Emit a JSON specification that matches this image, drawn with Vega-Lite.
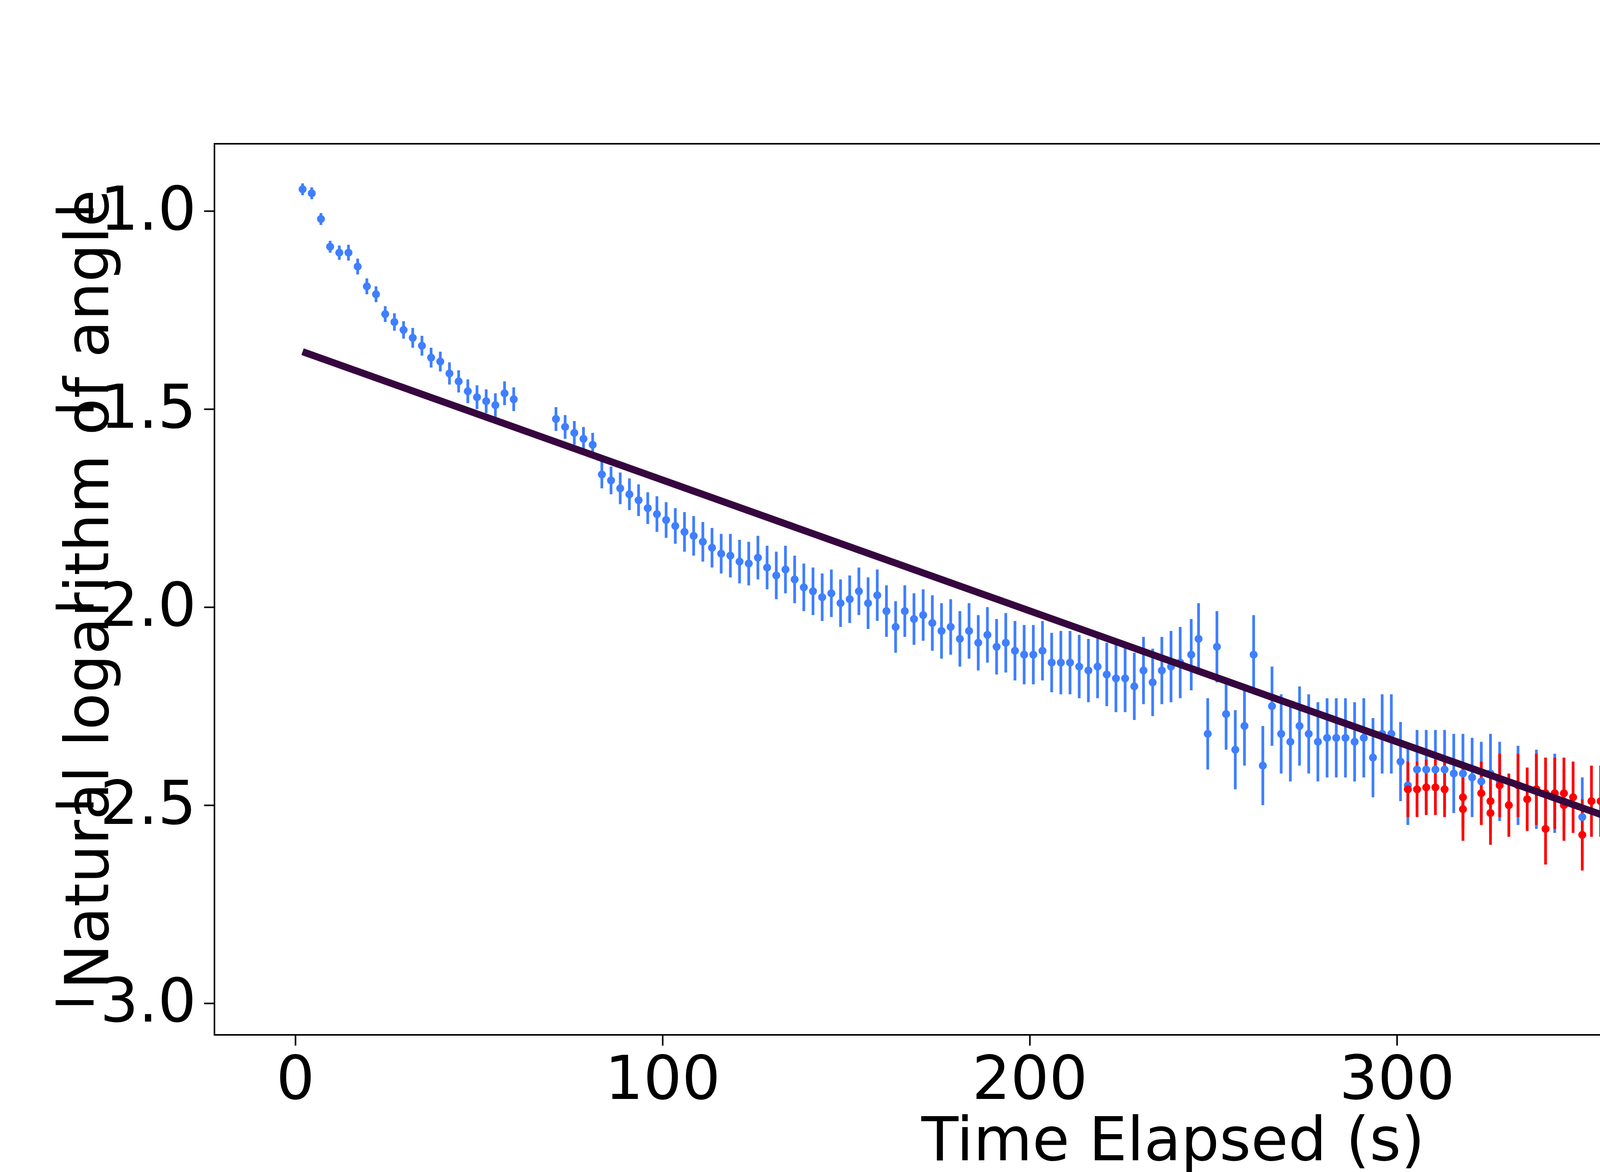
{
  "$schema": "https://vega.github.io/schema/vega-lite/v6.json",
  "width": 6000,
  "height": 3000,
  "autosize": {"type": "fit", "contains": "padding"},
  "padding": {"left": 125, "top": 368, "right": 542, "bottom": 0},
  "background": "white",
  "config": {
    "font": "DejaVu Sans",
    "view": {"stroke": "black", "strokeWidth": 4},
    "axis": {
      "labelFont": "DejaVu Sans", "titleFont": "DejaVu Sans",
      "labelFontSize": 155, "titleFontSize": 155, "titleFontWeight": "normal",
      "labelColor": "black", "titleColor": "black", "labelLimit": 0, "titleLimit": 0,
      "grid": false, "domain": false, "tickSize": 27, "tickWidth": 4, "tickColor": "black",
      "labelPadding": 14
    },
    "legend": {"labelFont": "DejaVu Sans", "labelFontSize": 155, "labelColor": "black", "labelLimit": 0}
  },
  "datasets": {
    "fit": [
      {"t": 2, "v": -1.355, "s": "Linear Fit"},
      {"t": 477, "v": -2.925, "s": "Linear Fit"}
    ],
    "pts": [
      {"t": 2, "v": -0.945, "e": 0.015, "s": "Amplitudes"},
      {"t": 4.5, "v": -0.955, "e": 0.015, "s": "Amplitudes"},
      {"t": 7, "v": -1.02, "e": 0.015, "s": "Amplitudes"},
      {"t": 9.5, "v": -1.09, "e": 0.015, "s": "Amplitudes"},
      {"t": 12, "v": -1.105, "e": 0.018, "s": "Amplitudes"},
      {"t": 14.5, "v": -1.105, "e": 0.02, "s": "Amplitudes"},
      {"t": 17, "v": -1.14, "e": 0.02, "s": "Amplitudes"},
      {"t": 19.5, "v": -1.19, "e": 0.02, "s": "Amplitudes"},
      {"t": 22, "v": -1.21, "e": 0.02, "s": "Amplitudes"},
      {"t": 24.5, "v": -1.26, "e": 0.02, "s": "Amplitudes"},
      {"t": 27, "v": -1.28, "e": 0.022, "s": "Amplitudes"},
      {"t": 29.5, "v": -1.30, "e": 0.022, "s": "Amplitudes"},
      {"t": 32, "v": -1.32, "e": 0.025, "s": "Amplitudes"},
      {"t": 34.5, "v": -1.34, "e": 0.025, "s": "Amplitudes"},
      {"t": 37, "v": -1.37, "e": 0.025, "s": "Amplitudes"},
      {"t": 39.5, "v": -1.38, "e": 0.025, "s": "Amplitudes"},
      {"t": 42, "v": -1.41, "e": 0.028, "s": "Amplitudes"},
      {"t": 44.5, "v": -1.43, "e": 0.028, "s": "Amplitudes"},
      {"t": 47, "v": -1.455, "e": 0.03, "s": "Amplitudes"},
      {"t": 49.5, "v": -1.47, "e": 0.03, "s": "Amplitudes"},
      {"t": 52, "v": -1.48, "e": 0.03, "s": "Amplitudes"},
      {"t": 54.5, "v": -1.49, "e": 0.03, "s": "Amplitudes"},
      {"t": 57, "v": -1.46, "e": 0.03, "s": "Amplitudes"},
      {"t": 59.5, "v": -1.475, "e": 0.03, "s": "Amplitudes"},
      {"t": 71, "v": -1.525, "e": 0.03, "s": "Amplitudes"},
      {"t": 73.5, "v": -1.545, "e": 0.03, "s": "Amplitudes"},
      {"t": 76, "v": -1.56, "e": 0.03, "s": "Amplitudes"},
      {"t": 78.5, "v": -1.575, "e": 0.03, "s": "Amplitudes"},
      {"t": 81, "v": -1.59, "e": 0.03, "s": "Amplitudes"},
      {"t": 83.5, "v": -1.665, "e": 0.035, "s": "Amplitudes"},
      {"t": 86, "v": -1.68, "e": 0.035, "s": "Amplitudes"},
      {"t": 88.5, "v": -1.70, "e": 0.04, "s": "Amplitudes"},
      {"t": 91, "v": -1.715, "e": 0.04, "s": "Amplitudes"},
      {"t": 93.5, "v": -1.73, "e": 0.04, "s": "Amplitudes"},
      {"t": 96, "v": -1.75, "e": 0.04, "s": "Amplitudes"},
      {"t": 98.5, "v": -1.765, "e": 0.045, "s": "Amplitudes"},
      {"t": 101, "v": -1.78, "e": 0.045, "s": "Amplitudes"},
      {"t": 103.5, "v": -1.795, "e": 0.045, "s": "Amplitudes"},
      {"t": 106, "v": -1.81, "e": 0.05, "s": "Amplitudes"},
      {"t": 108.5, "v": -1.82, "e": 0.05, "s": "Amplitudes"},
      {"t": 111, "v": -1.835, "e": 0.05, "s": "Amplitudes"},
      {"t": 113.5, "v": -1.85, "e": 0.05, "s": "Amplitudes"},
      {"t": 116, "v": -1.865, "e": 0.05, "s": "Amplitudes"},
      {"t": 118.5, "v": -1.87, "e": 0.055, "s": "Amplitudes"},
      {"t": 121, "v": -1.885, "e": 0.055, "s": "Amplitudes"},
      {"t": 123.5, "v": -1.89, "e": 0.055, "s": "Amplitudes"},
      {"t": 126, "v": -1.875, "e": 0.055, "s": "Amplitudes"},
      {"t": 128.5, "v": -1.90, "e": 0.055, "s": "Amplitudes"},
      {"t": 131, "v": -1.92, "e": 0.06, "s": "Amplitudes"},
      {"t": 133.5, "v": -1.905, "e": 0.06, "s": "Amplitudes"},
      {"t": 136, "v": -1.93, "e": 0.06, "s": "Amplitudes"},
      {"t": 138.5, "v": -1.95, "e": 0.06, "s": "Amplitudes"},
      {"t": 141, "v": -1.96, "e": 0.06, "s": "Amplitudes"},
      {"t": 143.5, "v": -1.975, "e": 0.06, "s": "Amplitudes"},
      {"t": 146, "v": -1.965, "e": 0.06, "s": "Amplitudes"},
      {"t": 148.5, "v": -1.99, "e": 0.06, "s": "Amplitudes"},
      {"t": 151, "v": -1.98, "e": 0.06, "s": "Amplitudes"},
      {"t": 153.5, "v": -1.96, "e": 0.06, "s": "Amplitudes"},
      {"t": 156, "v": -1.99, "e": 0.065, "s": "Amplitudes"},
      {"t": 158.5, "v": -1.97, "e": 0.065, "s": "Amplitudes"},
      {"t": 161, "v": -2.01, "e": 0.065, "s": "Amplitudes"},
      {"t": 163.5, "v": -2.05, "e": 0.065, "s": "Amplitudes"},
      {"t": 166, "v": -2.01, "e": 0.065, "s": "Amplitudes"},
      {"t": 168.5, "v": -2.03, "e": 0.065, "s": "Amplitudes"},
      {"t": 171, "v": -2.02, "e": 0.065, "s": "Amplitudes"},
      {"t": 173.5, "v": -2.04, "e": 0.07, "s": "Amplitudes"},
      {"t": 176, "v": -2.06, "e": 0.07, "s": "Amplitudes"},
      {"t": 178.5, "v": -2.05, "e": 0.07, "s": "Amplitudes"},
      {"t": 181, "v": -2.08, "e": 0.07, "s": "Amplitudes"},
      {"t": 183.5, "v": -2.06, "e": 0.07, "s": "Amplitudes"},
      {"t": 186, "v": -2.09, "e": 0.07, "s": "Amplitudes"},
      {"t": 188.5, "v": -2.07, "e": 0.07, "s": "Amplitudes"},
      {"t": 191, "v": -2.10, "e": 0.07, "s": "Amplitudes"},
      {"t": 193.5, "v": -2.09, "e": 0.075, "s": "Amplitudes"},
      {"t": 196, "v": -2.11, "e": 0.075, "s": "Amplitudes"},
      {"t": 198.5, "v": -2.12, "e": 0.075, "s": "Amplitudes"},
      {"t": 201, "v": -2.12, "e": 0.075, "s": "Amplitudes"},
      {"t": 203.5, "v": -2.11, "e": 0.075, "s": "Amplitudes"},
      {"t": 206, "v": -2.14, "e": 0.075, "s": "Amplitudes"},
      {"t": 208.5, "v": -2.14, "e": 0.08, "s": "Amplitudes"},
      {"t": 211, "v": -2.14, "e": 0.08, "s": "Amplitudes"},
      {"t": 213.5, "v": -2.15, "e": 0.08, "s": "Amplitudes"},
      {"t": 216, "v": -2.16, "e": 0.08, "s": "Amplitudes"},
      {"t": 218.5, "v": -2.15, "e": 0.08, "s": "Amplitudes"},
      {"t": 221, "v": -2.17, "e": 0.08, "s": "Amplitudes"},
      {"t": 223.5, "v": -2.18, "e": 0.085, "s": "Amplitudes"},
      {"t": 226, "v": -2.18, "e": 0.085, "s": "Amplitudes"},
      {"t": 228.5, "v": -2.20, "e": 0.085, "s": "Amplitudes"},
      {"t": 231, "v": -2.16, "e": 0.085, "s": "Amplitudes"},
      {"t": 233.5, "v": -2.19, "e": 0.085, "s": "Amplitudes"},
      {"t": 236, "v": -2.16, "e": 0.085, "s": "Amplitudes"},
      {"t": 238.5, "v": -2.15, "e": 0.09, "s": "Amplitudes"},
      {"t": 241, "v": -2.14, "e": 0.09, "s": "Amplitudes"},
      {"t": 244, "v": -2.12, "e": 0.09, "s": "Amplitudes"},
      {"t": 246, "v": -2.08, "e": 0.09, "s": "Amplitudes"},
      {"t": 248.5, "v": -2.32, "e": 0.09, "s": "Amplitudes"},
      {"t": 251, "v": -2.10, "e": 0.09, "s": "Amplitudes"},
      {"t": 253.5, "v": -2.27, "e": 0.09, "s": "Amplitudes"},
      {"t": 256, "v": -2.36, "e": 0.1, "s": "Amplitudes"},
      {"t": 258.5, "v": -2.30, "e": 0.1, "s": "Amplitudes"},
      {"t": 261, "v": -2.12, "e": 0.1, "s": "Amplitudes"},
      {"t": 263.5, "v": -2.40, "e": 0.1, "s": "Amplitudes"},
      {"t": 266, "v": -2.25, "e": 0.1, "s": "Amplitudes"},
      {"t": 268.5, "v": -2.32, "e": 0.1, "s": "Amplitudes"},
      {"t": 271, "v": -2.34, "e": 0.1, "s": "Amplitudes"},
      {"t": 273.5, "v": -2.30, "e": 0.1, "s": "Amplitudes"},
      {"t": 276, "v": -2.32, "e": 0.1, "s": "Amplitudes"},
      {"t": 278.5, "v": -2.34, "e": 0.1, "s": "Amplitudes"},
      {"t": 281, "v": -2.33, "e": 0.1, "s": "Amplitudes"},
      {"t": 283.5, "v": -2.33, "e": 0.1, "s": "Amplitudes"},
      {"t": 286, "v": -2.33, "e": 0.1, "s": "Amplitudes"},
      {"t": 288.5, "v": -2.34, "e": 0.1, "s": "Amplitudes"},
      {"t": 291, "v": -2.33, "e": 0.1, "s": "Amplitudes"},
      {"t": 293.5, "v": -2.38, "e": 0.1, "s": "Amplitudes"},
      {"t": 296, "v": -2.32, "e": 0.1, "s": "Amplitudes"},
      {"t": 298.5, "v": -2.32, "e": 0.1, "s": "Amplitudes"},
      {"t": 301, "v": -2.39, "e": 0.1, "s": "Amplitudes"},
      {"t": 303, "v": -2.45, "e": 0.1, "s": "Amplitudes"},
      {"t": 305.5, "v": -2.41, "e": 0.1, "s": "Amplitudes"},
      {"t": 308, "v": -2.41, "e": 0.1, "s": "Amplitudes"},
      {"t": 310.5, "v": -2.41, "e": 0.1, "s": "Amplitudes"},
      {"t": 313, "v": -2.41, "e": 0.1, "s": "Amplitudes"},
      {"t": 315.5, "v": -2.42, "e": 0.1, "s": "Amplitudes"},
      {"t": 318, "v": -2.42, "e": 0.1, "s": "Amplitudes"},
      {"t": 320.5, "v": -2.43, "e": 0.1, "s": "Amplitudes"},
      {"t": 323, "v": -2.44, "e": 0.1, "s": "Amplitudes"},
      {"t": 325.5, "v": -2.42, "e": 0.1, "s": "Amplitudes"},
      {"t": 328, "v": -2.44, "e": 0.1, "s": "Amplitudes"},
      {"t": 333, "v": -2.45, "e": 0.1, "s": "Amplitudes"},
      {"t": 338, "v": -2.46, "e": 0.1, "s": "Amplitudes"},
      {"t": 343, "v": -2.47, "e": 0.1, "s": "Amplitudes"},
      {"t": 350.5, "v": -2.53, "e": 0.1, "s": "Amplitudes"},
      {"t": 372, "v": -2.60, "e": 0.08, "s": "Amplitudes"},
      {"t": 382, "v": -2.62, "e": 0.08, "s": "Amplitudes"},
      {"t": 395, "v": -2.58, "e": 0.1, "s": "Amplitudes"},
      {"t": 397.5, "v": -2.575, "e": 0.1, "s": "Amplitudes"},
      {"t": 400, "v": -2.59, "e": 0.1, "s": "Amplitudes"},
      {"t": 402.5, "v": -2.60, "e": 0.1, "s": "Amplitudes"},
      {"t": 405, "v": -2.595, "e": 0.1, "s": "Amplitudes"},
      {"t": 407.5, "v": -2.61, "e": 0.1, "s": "Amplitudes"},
      {"t": 410, "v": -2.60, "e": 0.11, "s": "Amplitudes"},
      {"t": 412.5, "v": -2.62, "e": 0.11, "s": "Amplitudes"},
      {"t": 415, "v": -2.615, "e": 0.11, "s": "Amplitudes"},
      {"t": 415, "v": -2.65, "e": 0.11, "s": "Amplitudes"},
      {"t": 417.5, "v": -2.635, "e": 0.11, "s": "Amplitudes"},
      {"t": 420, "v": -2.65, "e": 0.11, "s": "Amplitudes"},
      {"t": 420, "v": -2.67, "e": 0.11, "s": "Amplitudes"},
      {"t": 422.5, "v": -2.64, "e": 0.11, "s": "Amplitudes"},
      {"t": 425, "v": -2.66, "e": 0.11, "s": "Amplitudes"},
      {"t": 425, "v": -2.69, "e": 0.11, "s": "Amplitudes"},
      {"t": 427.5, "v": -2.64, "e": 0.11, "s": "Amplitudes"},
      {"t": 430, "v": -2.65, "e": 0.11, "s": "Amplitudes"},
      {"t": 430, "v": -2.72, "e": 0.11, "s": "Amplitudes"},
      {"t": 432.5, "v": -2.69, "e": 0.11, "s": "Amplitudes"},
      {"t": 435, "v": -2.69, "e": 0.11, "s": "Amplitudes"},
      {"t": 435, "v": -2.73, "e": 0.11, "s": "Amplitudes"},
      {"t": 437.5, "v": -2.70, "e": 0.11, "s": "Amplitudes"},
      {"t": 440, "v": -2.71, "e": 0.11, "s": "Amplitudes"},
      {"t": 440, "v": -2.75, "e": 0.11, "s": "Amplitudes"},
      {"t": 442.5, "v": -2.73, "e": 0.11, "s": "Amplitudes"},
      {"t": 445, "v": -2.745, "e": 0.11, "s": "Amplitudes"},
      {"t": 448, "v": -2.78, "e": 0.11, "s": "Amplitudes"},
      {"t": 454, "v": -2.74, "e": 0.12, "s": "Amplitudes"},
      {"t": 457, "v": -2.835, "e": 0.12, "s": "Amplitudes"},
      {"t": 459.5, "v": -2.835, "e": 0.12, "s": "Amplitudes"},
      {"t": 462, "v": -2.84, "e": 0.12, "s": "Amplitudes"},
      {"t": 464.5, "v": -2.835, "e": 0.12, "s": "Amplitudes"},
      {"t": 467, "v": -2.85, "e": 0.12, "s": "Amplitudes"},
      {"t": 469.5, "v": -2.855, "e": 0.12, "s": "Amplitudes"},
      {"t": 472, "v": -2.86, "e": 0.12, "s": "Amplitudes"},
      {"t": 475, "v": -2.865, "e": 0.12, "s": "Amplitudes"},
      {"t": 303, "v": -2.46, "e": 0.07, "s": "21 +/- 0.5% Mark"},
      {"t": 305.5, "v": -2.46, "e": 0.07, "s": "21 +/- 0.5% Mark"},
      {"t": 308, "v": -2.455, "e": 0.07, "s": "21 +/- 0.5% Mark"},
      {"t": 310.5, "v": -2.455, "e": 0.07, "s": "21 +/- 0.5% Mark"},
      {"t": 313, "v": -2.46, "e": 0.07, "s": "21 +/- 0.5% Mark"},
      {"t": 318, "v": -2.48, "e": 0.08, "s": "21 +/- 0.5% Mark"},
      {"t": 318, "v": -2.51, "e": 0.08, "s": "21 +/- 0.5% Mark"},
      {"t": 323, "v": -2.47, "e": 0.08, "s": "21 +/- 0.5% Mark"},
      {"t": 325.5, "v": -2.49, "e": 0.08, "s": "21 +/- 0.5% Mark"},
      {"t": 325.5, "v": -2.52, "e": 0.08, "s": "21 +/- 0.5% Mark"},
      {"t": 328, "v": -2.45, "e": 0.08, "s": "21 +/- 0.5% Mark"},
      {"t": 330.5, "v": -2.50, "e": 0.08, "s": "21 +/- 0.5% Mark"},
      {"t": 333, "v": -2.45, "e": 0.08, "s": "21 +/- 0.5% Mark"},
      {"t": 335.5, "v": -2.485, "e": 0.08, "s": "21 +/- 0.5% Mark"},
      {"t": 338, "v": -2.46, "e": 0.09, "s": "21 +/- 0.5% Mark"},
      {"t": 340.5, "v": -2.56, "e": 0.09, "s": "21 +/- 0.5% Mark"},
      {"t": 340.5, "v": -2.47, "e": 0.09, "s": "21 +/- 0.5% Mark"},
      {"t": 343, "v": -2.47, "e": 0.09, "s": "21 +/- 0.5% Mark"},
      {"t": 345.5, "v": -2.47, "e": 0.09, "s": "21 +/- 0.5% Mark"},
      {"t": 345.5, "v": -2.50, "e": 0.09, "s": "21 +/- 0.5% Mark"},
      {"t": 348, "v": -2.48, "e": 0.09, "s": "21 +/- 0.5% Mark"},
      {"t": 350.5, "v": -2.575, "e": 0.09, "s": "21 +/- 0.5% Mark"},
      {"t": 353, "v": -2.49, "e": 0.09, "s": "21 +/- 0.5% Mark"},
      {"t": 355.5, "v": -2.49, "e": 0.09, "s": "21 +/- 0.5% Mark"},
      {"t": 358, "v": -2.49, "e": 0.09, "s": "21 +/- 0.5% Mark"},
      {"t": 360.5, "v": -2.495, "e": 0.09, "s": "21 +/- 0.5% Mark"},
      {"t": 363, "v": -2.50, "e": 0.09, "s": "21 +/- 0.5% Mark"},
      {"t": 365.5, "v": -2.505, "e": 0.09, "s": "21 +/- 0.5% Mark"},
      {"t": 368, "v": -2.51, "e": 0.09, "s": "21 +/- 0.5% Mark"},
      {"t": 370.5, "v": -2.51, "e": 0.09, "s": "21 +/- 0.5% Mark"},
      {"t": 373, "v": -2.52, "e": 0.09, "s": "21 +/- 0.5% Mark"},
      {"t": 375.5, "v": -2.525, "e": 0.09, "s": "21 +/- 0.5% Mark"},
      {"t": 378, "v": -2.525, "e": 0.09, "s": "21 +/- 0.5% Mark"},
      {"t": 380.5, "v": -2.53, "e": 0.09, "s": "21 +/- 0.5% Mark"},
      {"t": 383, "v": -2.54, "e": 0.09, "s": "21 +/- 0.5% Mark"},
      {"t": 385.5, "v": -2.545, "e": 0.09, "s": "21 +/- 0.5% Mark"},
      {"t": 388, "v": -2.55, "e": 0.09, "s": "21 +/- 0.5% Mark"},
      {"t": 390.5, "v": -2.555, "e": 0.09, "s": "21 +/- 0.5% Mark"},
      {"t": 393, "v": -2.56, "e": 0.09, "s": "21 +/- 0.5% Mark"},
      {"t": 395.5, "v": -2.555, "e": 0.09, "s": "21 +/- 0.5% Mark"}
    ]
  },
  "layer": [
    {
      "data": {"name": "pts"},
      "transform": [
        {"calculate": "datum.v - datum.e", "as": "lo"},
        {"calculate": "datum.v + datum.e", "as": "hi"}
      ],
      "mark": {"type": "rule", "strokeWidth": 7},
      "encoding": {
        "x": {"field": "t", "type": "quantitative"},
        "y": {"field": "lo", "type": "quantitative"},
        "y2": {"field": "hi"},
        "color": {"field": "s", "type": "nominal", "legend": null,
          "scale": {"domain": ["Linear Fit", "Amplitudes", "21 +/- 0.5% Mark"], "range": ["#36073f", "#3f7fff", "#ff0000"]}}
      }
    },
    {
      "data": {"name": "pts"},
      "mark": {"type": "point", "filled": true, "opacity": 1, "size": 420, "shape": "circle"},
      "encoding": {
        "x": {"field": "t", "type": "quantitative"},
        "y": {"field": "v", "type": "quantitative"},
        "color": {"field": "s", "type": "nominal"}
      }
    },
    {
      "data": {"name": "fit"},
      "mark": {"type": "line", "strokeWidth": 18, "strokeCap": "butt"},
      "encoding": {
        "x": {"field": "t", "type": "quantitative",
          "scale": {"domain": [-22, 500], "nice": false, "zero": false},
          "axis": {"values": [0, 100, 200, 300, 400, 500], "title": "Time Elapsed (s)", "titlePadding": 4}},
        "y": {"field": "v", "type": "quantitative",
          "scale": {"domain": [-3.08, -0.83], "nice": false, "zero": false},
          "axis": {"values": [-3, -2.5, -2, -1.5, -1], "format": ".1f", "title": "Natural logarithm of angle", "titlePadding": 40, "labelPadding": 20}},
        "color": {"field": "s", "type": "nominal",
          "legend": {
            "title": null, "orient": "none", "legendX": 2539, "legendY": 81,
            "values": ["Linear Fit", "Amplitudes", "21 +/- 0.5% Mark"],
            "padding": 55, "rowPadding": 85, "labelOffset": 130,
            "symbolType": "circle", "symbolSize": 420,
            "strokeColor": "#cccccc", "fillColor": "white", "cornerRadius": 15,
            "encode": {
              "symbols": {"update": {
                "shape": {"signal": "datum.value === 'Linear Fit' ? 'stroke' : 'circle'"},
                "size": {"signal": "datum.value === 'Linear Fit' ? 136900 : 420"},
                "strokeWidth": {"signal": "datum.value === 'Linear Fit' ? 18 : 0"},
                "stroke": {"scale": "color", "field": "value"},
                "fill": {"scale": "color", "field": "value"},
                "opacity": {"value": 1}
              }}
            }
          }}
      }
    }
  ]
}
